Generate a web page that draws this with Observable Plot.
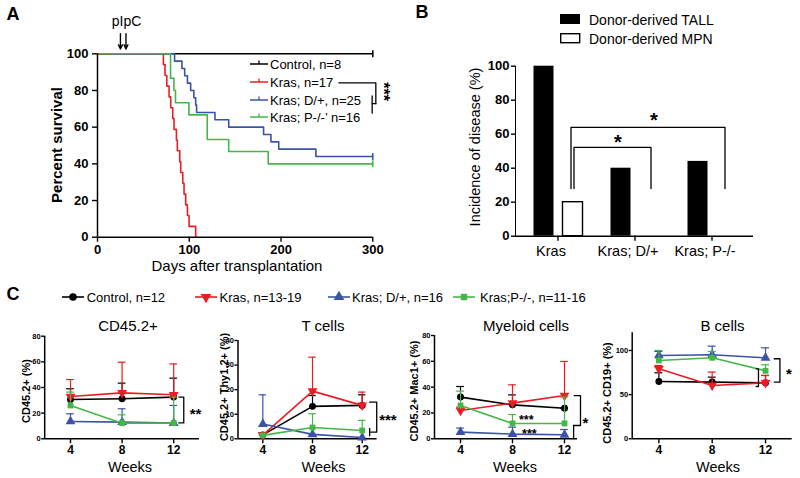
<!DOCTYPE html>
<html>
<head>
<meta charset="utf-8">
<script src="https://cdn.jsdelivr.net/npm/d3@7"></script>
<script src="https://cdn.jsdelivr.net/npm/@observablehq/plot@0.6"></script>
<style>
html, body { margin:0; padding:0; background:#fff; }
#fig { position:relative; width:800px; height:478px; overflow:hidden; background:#fff; font-family:"Liberation Sans", Arial, Helvetica, sans-serif; color:#000; }
.layer { position:absolute; left:0; top:0; width:800px; height:478px; }
.layer svg { position:absolute; left:0; top:0; }
.lbl { position:absolute; white-space:nowrap; line-height:1; }
.sw { position:absolute; overflow:visible; }
#pA [aria-label^="x-axis"] text, #pA [aria-label^="y-axis"] text { font-size:13px; font-weight:bold; }
#pB [aria-label^="y-axis"] text { font-size:13px; font-weight:bold; }
#pB [aria-label^="x-axis"] text { font-size:14.5px; }
.pc [aria-label^="x-axis"] text { font-size:12px; font-weight:bold; }
.pc [aria-label^="y-axis"] text { font-size:7.5px; font-weight:bold; }
[aria-label^="x-axis"], [aria-label^="y-axis"] { stroke-width:1.4px; }
</style>
</head>
<body>
<div id="fig"></div>
<script>
// ---------------- Panel A: survival ----------------
const survXTicks = [0, 100, 200, 300];
const survYTicks = [0, 20, 40, 60, 80, 100];
const survLegend = ["Control, n=8", "Kras, n=17", "Kras; D/+, n=25", "Kras; P-/-\u2019 n=16"];
const controlDays = [0, 300];
const controlSurv = [100, 100];
const krasDays = [0, 71.8, 73.6, 75.5, 78, 79.8, 82, 83.4, 86, 87, 89.6, 90.7, 92.9, 94.3, 96.1, 98, 99.8, 107];
const krasSurv = [100, 94.1, 88.2, 82.4, 76.5, 70.6, 64.7, 58.8, 52.9, 47.1, 41.2, 35.3, 29.4, 23.5, 17.6, 11.8, 5.9, 0];
const dplusDays = [0, 84, 92, 95, 98, 101.5, 105, 107, 108, 128, 143, 181, 189, 197.5, 238, 300];
const dplusSurv = [100, 96, 92, 88, 84, 80, 76, 72, 68, 64, 60, 56, 52, 48, 44, 44];
const pkoDays = [0, 79.6, 83.3, 85, 99.6, 119.6, 143, 186, 300];
const pkoSurv = [100, 86.7, 80, 73.3, 66.7, 53.3, 46.7, 40, 40];
const censorDays = [300, 300, 300];
const censorSurv = [100, 44, 40];
const pipcDays = [25, 31];
const pipcLabel = ["pIpC"];
const aBracket = [[263, 84.2], [303.3, 84.2], [303.3, 72.8]];
const aBracketStub = [[303.3, 72.8], [299.3, 72.8]];
const aBracketInner = [[299.3, 77], [299.3, 67.6]];

// ---------------- Panel B: incidence ----------------
const bGroups = ["Kras", "Kras; D/+", "Kras; P-/-"];
const bTall = [100, 40, 44];
const bMpn = [20, 0, 0];
const bYTicks = [0, 20, 40, 60, 80, 100];
const bLegend = ["Donor-derived TALL", "Donor-derived MPN"];
const bBracketOuter = [["Kras", 28], ["Kras", 64], ["Kras; P-/-", 64], ["Kras; P-/-", 28]];
const bBracketInner = [["Kras", 28], ["Kras", 52.2], ["Kras; D/+", 52.2], ["Kras; D/+", 28]];

// ---------------- Panel C: chimerism ----------------
const weeks = [4, 8, 12];
const cSeries = ["Control, n=12", "Kras, n=13-19", "Kras; D/+, n=16", "Kras;P-/-, n=11-16"];
const cd45Mean  = [[30.6, 31.2, 32.5], [33, 35.8, 34.3], [13.5, 13, 12.2], [26, 12.2, 12.2]];
const cd45Upper = [[39, 43.4, 47.3], [46.2, 59.7, 58.4], [19.5, 23.4, 26], [36.4, 18.7, 32.5]];
const tMean  = [[1.6, 13.2, 13.6], [1.5, 19.4, 13.6], [6, 1.8, 0.5], [1.4, 4.6, 3.4]];
const tUpper = [[2.4, 17.6, 17.9], [2, 33.2, 19], [17.9, 1.8, 0.5], [2, 10.2, 7.5]];
const myeMean  = [[32.3, 26.3, 23.7], [21.9, 27.6, 33.5], [5.2, 3.6, 3.1], [25.8, 11.9, 11.9]];
const myeUpper = [[40.5, 34, 23.7], [24.5, 41.8, 59.9], [8.3, 9, 7.2], [36.9, 18.8, 32.3]];
const bcMean  = [[64.9, 64.2, 63.4], [79.2, 60.4, 63.4], [94.3, 95.1, 91.7], [88.7, 91.7, 77]];
const bcUpper = [[74.7, 69.8, 71.7], [83, 75.5, 71.7], [98.9, 104.9, 103], [100, 98.9, 83.8]];

// ---------------- helpers ----------------
const FONT = '"Liberation Sans", Arial, Helvetica, sans-serif';
const W = 800, H = 478;
const BLACK = "#000000", RED = "#ec1c24", BLUE = "#3b53a4", GREEN = "#45b649";
const cColors = [BLACK, RED, BLUE, GREEN];
const fig = document.getElementById("fig");

const triDown = {draw(ctx, size) {
  const y = -Math.sqrt(size / (Math.sqrt(3) * 3));
  ctx.moveTo(0, -y * 2); ctx.lineTo(-Math.sqrt(3) * y, y); ctx.lineTo(Math.sqrt(3) * y, y); ctx.closePath();
}};
const cSymbols = [d3.symbolCircle, triDown, d3.symbolTriangle, d3.symbolSquare];
const cSizes = [38, 42, 42, 34];
const vtick = {draw(ctx) { ctx.moveTo(0, -3.5); ctx.lineTo(0, 3.5); }};

function frameBox(left, top, right, bottom) {
  return {marginLeft: left, marginTop: top, marginRight: W - right, marginBottom: H - bottom};
}
function layer(id, cls, options) {
  const div = document.createElement("div");
  div.id = id; div.className = "layer " + cls;
  const svg = Plot.plot({width: W, height: H, color: {type: "identity"},
    style: {background: "transparent", overflow: "visible", fontFamily: FONT, fontSize: "12px"}, ...options});
  div.appendChild(svg);
  fig.appendChild(div);
}
function addText(str, x, y, o = {}) {
  const d = document.createElement("div");
  d.className = "lbl";
  d.textContent = str;
  d.style.left = x + "px"; d.style.top = y + "px";
  d.style.fontSize = (o.size || 13) + "px";
  d.style.fontWeight = o.weight || "normal";
  const a = o.anchor || "middle";
  const tx = a === "start" ? "0" : a === "end" ? "-100%" : "-50%";
  d.style.transform = `translate(${tx},-50%)` + (o.rotate ? ` rotate(${o.rotate}deg)` : "");
  fig.appendChild(d);
}
function addSvg(x, y, w, h, inner) {
  const ns = "http://www.w3.org/2000/svg";
  const s = document.createElementNS(ns, "svg");
  s.setAttribute("class", "sw"); s.setAttribute("width", w); s.setAttribute("height", h);
  s.style.left = x + "px"; s.style.top = y + "px";
  s.innerHTML = inner;
  fig.appendChild(s);
}

// ---------------- Panel A ----------------
const survSeries = [
  {days: controlDays, surv: controlSurv, color: BLACK},
  {days: krasDays, surv: krasSurv, color: RED},
  {days: dplusDays, surv: dplusSurv, color: BLUE},
  {days: pkoDays, surv: pkoSurv, color: GREEN}
];
const censorRows = censorDays.map((d, i) => ({day: d, surv: censorSurv[i], color: [BLACK, BLUE, GREEN][i]}));
const bracketLine = pts => Plot.line(pts, {x: d => d[0], y: d => d[1], stroke: "black", strokeWidth: 1.3});

layer("pA", "", {
  ...frameBox(97, 53.3, 372.3, 236.7),
  x: {domain: [0, 300], ticks: survXTicks, tickSize: 5, tickPadding: 3, label: null},
  y: {domain: [0, 100], ticks: survYTicks, tickSize: 5, tickPadding: 4, label: null},
  marks: [
    ...survSeries.map(s => Plot.line(s.days.map((d, i) => ({day: d, surv: s.surv[i]})),
      {x: "day", y: "surv", curve: "step-after", stroke: s.color, strokeWidth: 1.6})),
    Plot.dot(censorRows, {x: "day", y: "surv", symbol: vtick, stroke: "color", fill: "none", strokeWidth: 1.5}),
    Plot.ruleX([0], {strokeWidth: 1.5}),
    Plot.ruleY([0], {strokeWidth: 1.5}),
    Plot.arrow(pipcDays, {x1: d => d, x2: d => d, y1: 111, y2: 102.6, headLength: 5, headAngle: 50, strokeWidth: 1.4}),
    Plot.text(pipcLabel, {x: 31.6, y: 117.5, text: d => d, fontSize: 14}),
    bracketLine(aBracket), bracketLine(aBracketStub), bracketLine(aBracketInner),
    Plot.text(["***"], {x: 316, y: 79.4, text: d => d, rotate: 90, fontSize: 16, fontWeight: "bold", dx: -4})
  ]
});
addText("A", 13, 14, {size: 18, weight: "bold"});
addText("Percent survival", 56, 145, {size: 15, weight: "bold", rotate: -90});
addText("Days after transplantation", 237, 265, {size: 15});
const aLegendY = [63.5, 81.5, 99.5, 117];
survLegend.forEach((t, i) => {
  const c = survSeries[i].color;
  addSvg(250, aLegendY[i] - 5, 18, 8, `<line x1="0" y1="5" x2="18" y2="5" stroke="${c}" stroke-width="1.5"/><line x1="9" y1="1.5" x2="9" y2="5" stroke="${c}" stroke-width="1.3"/>`);
  addText(t, 270, aLegendY[i], {size: 13, anchor: "start"});
});

// ---------------- Panel B ----------------
const bRows = bGroups.map((g, i) => ({group: g, tall: bTall[i], mpn: bMpn[i]}));
layer("pB", "", {
  ...frameBox(515, 65.7, 753, 235.7),
  x: {domain: bGroups, paddingInner: 0, paddingOuter: 0.045, axis: null, label: null},
  y: {domain: [0, 100], ticks: bYTicks, tickSize: 4, tickPadding: 2, label: null, line: true},
  marks: [
    Plot.axisX({tickSize: 5, fill: "none", label: null, strokeWidth: 1.4}),
    Plot.axisX({tickSize: 0, tickPadding: 10, dx: -7, fontSize: 14.5, label: null}),
    Plot.barY(bRows, {x: "group", y: "tall", fill: "black", insetLeft: 14.5, insetRight: 42.5}),
    Plot.barY(bRows.filter(d => d.mpn > 0), {x: "group", y: "mpn", fill: "white", stroke: "black", strokeWidth: 1.4, insetLeft: 43.5, insetRight: 13.5}),
    Plot.ruleY([0], {strokeWidth: 1.5}),
    Plot.line(bBracketOuter, {x: d => d[0], y: d => d[1], dx: 13, stroke: "black", strokeWidth: 1.3}),
    Plot.line(bBracketInner, {x: d => d[0], y: d => d[1], dx: 16, stroke: "black", strokeWidth: 1.3}),
    Plot.text(["*"], {x: () => "Kras; D/+", y: 71, text: d => d, dx: 19, dy: 5, fontSize: 20, fontWeight: "bold"}),
    Plot.text(["*"], {x: () => "Kras; D/+", y: 58, text: d => d, dx: -17, dy: 5, fontSize: 20, fontWeight: "bold"})
  ]
});
addText("B", 422, 12, {size: 18, weight: "bold"});
addText("Incidence of disease (%)", 475, 147, {size: 14.5, rotate: -90});
addSvg(560, 14.3, 21, 11, `<rect x="0" y="0" width="20" height="10" fill="black"/>`);
addSvg(560, 33.3, 21, 11, `<rect x="0.7" y="0.7" width="19" height="9" fill="white" stroke="black" stroke-width="1.4"/>`);
addText(bLegend[0], 589, 19.5, {size: 14, anchor: "start"});
addText(bLegend[1], 589, 38.5, {size: 14, anchor: "start"});

// ---------------- Panel C ----------------
const cPanels = [
  {id: "pC1", mean: cd45Mean, upper: cd45Upper, box: [44.2, 335.7, 199, 438.3], xMax: 14, yDomain: [0, 80], yTicks: [0, 20, 40, 60, 80],
   title: "CD45.2+", titleX: 128, ytitle: "CD45.2+ (%)", ytX: 26, ytY: 391, weeksX: 130,
   brackets: [[[12.4, 32.5], [12.78, 32.5], [12.78, 12.4], [12.4, 12.4]]],
   stars: [{x: 13.7, y: 22, t: "**", s: 15}]},
  {id: "pC2", mean: tMean, upper: tUpper, box: [237.5, 340, 376.6, 438.3], xMax: 13.2, yDomain: [0, 40], yTicks: [0, 10, 20, 30, 40],
   title: "T cells", titleX: 323, ytitle: "CD45.2+ Thy1.2+ (%)", ytX: 224, ytY: 387, weeksX: 323.5,
   brackets: [[[12.6, 14.9], [13.17, 14.9], [13.17, 2.7], [12.6, 2.7]], [[12.6, 1.2], [12.6, 4.2]]],
   stars: [{x: 14.07, y: 9.2, t: "***", s: 15}]},
  {id: "pC3", mean: myeMean, upper: myeUpper, box: [434, 335, 577, 438.3], xMax: 13, yDomain: [0, 80], yTicks: [0, 20, 40, 60, 80],
   title: "Myeloid cells", titleX: 526, ytitle: "CD45.2+ Mac1+ (%)", ytX: 414, ytY: 391, weeksX: 515,
   brackets: [[[12.75, 33.5], [13.23, 33.5], [13.23, 10.3], [12.7, 10.3]], [[12.7, 10.3], [12.7, 0]]],
   stars: [{x: 13.6, y: 15.5, t: "*", s: 15}, {x: 9.06, y: 16.8, t: "***", s: 12.5}, {x: 9.3, y: 6.2, t: "***", s: 12.5}]},
  {id: "pC4", mean: bcMean, upper: bcUpper, box: [631.7, 332.3, 791.7, 438.3], xMax: 14, yDomain: [0, 120], yTicks: [0, 50, 100],
   title: "B cells", titleX: 722.5, ytitle: "CD45.2+ CD19+ (%)", ytX: 607, ytY: 393, weeksX: 718,
   brackets: [[[11.3, 79.2], [11.47, 79.2], [11.47, 59.2], [11.3, 59.2]], [[12.65, 90.6], [13.08, 90.6], [13.08, 64.2], [12.65, 64.2]]],
   stars: [{x: 13.75, y: 77.4, t: "*", s: 15}]}
];

cPanels.forEach(p => {
  const seriesMarks = [];
  p.mean.forEach((vals, s) => {
    const rows = vals.map((v, i) => ({week: weeks[i], v, top: p.upper[s][i]}));
    const col = cColors[s];
    seriesMarks.push(
      Plot.ruleX(rows, {x: "week", y1: "v", y2: "top", stroke: col, strokeWidth: 1.2}),
      Plot.ruleY(rows, {y: "top", x1: d => d.week - 0.3, x2: d => d.week + 0.3, stroke: col, strokeWidth: 1.2}),
      Plot.line(rows, {x: "week", y: "v", stroke: col, strokeWidth: 1.6}),
      Plot.dot(rows, {x: "week", y: "v", symbol: cSymbols[s], r: Math.sqrt(cSizes[s] / Math.PI), fill: col, stroke: "none"})
    );
  });
  layer(p.id, "pc", {
    ...frameBox(...p.box),
    x: {domain: [2, p.xMax], ticks: weeks, tickSize: 5, tickPadding: 2, label: null},
    y: {domain: p.yDomain, ticks: p.yTicks, tickSize: 3, tickPadding: 1, label: null},
    marks: [
      Plot.ruleX([2], {strokeWidth: 1.5}),
      Plot.ruleY([p.yDomain[0]], {strokeWidth: 1.5}),
      ...seriesMarks,
      ...p.brackets.map(b => bracketLine(b)),
      ...p.stars.map(st => Plot.text([st], {x: "x", y: "y", text: "t", fontSize: st.s, fontWeight: "bold", dy: st.s * 0.27}))
    ]
  });
  addText(p.title, p.titleX, 325, {size: 15});
  addText(p.ytitle, p.ytX, p.ytY, {size: 11, weight: "bold", rotate: -90});
  addText("Weeks", p.weeksX, 467, {size: 14.5});
});

addText("C", 13, 294, {size: 18, weight: "bold"});
const cLegendLine = [[61.7, 86.7], [195, 219.5], [328, 352], [453, 480]];
cSeries.forEach((t, s) => {
  const [x0, tx] = cLegendLine[s];
  const path = d3.symbol(cSymbols[s], cSizes[s] * 1.2)();
  addSvg(x0, 290.7, 22, 12, `<line x1="0" y1="6" x2="22" y2="6" stroke="${cColors[s]}" stroke-width="1.6"/><path transform="translate(11,6)" d="${path}" fill="${cColors[s]}"/>`);
  addText(t, tx, 296.7, {size: 13, anchor: "start"});
});
</script>
</body>
</html>
